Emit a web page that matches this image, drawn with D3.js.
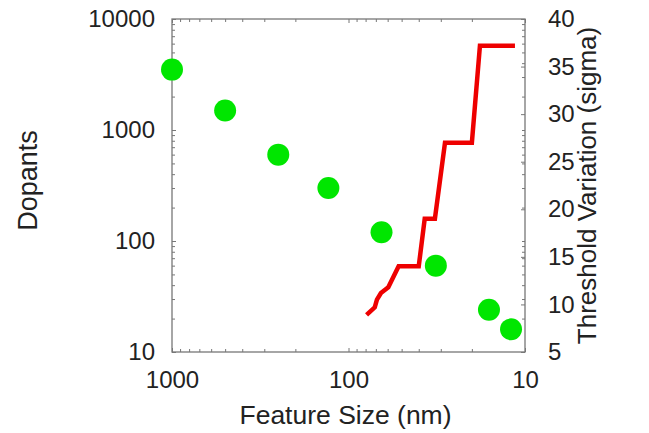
<!DOCTYPE html>
<html>
<head>
<meta charset="utf-8">
<script src="https://cdn.jsdelivr.net/npm/d3@7"></script>
<style>
  html, body { margin: 0; padding: 0; background: #fff; }
  #chart { width: 649px; height: 433px; }
  text { font-family: "Liberation Sans", Arial, sans-serif; fill: #222; }
</style>
</head>
<body>
<div id="chart"></div>
<script>
// dopant count per node
const featureSize = [1000, 500, 250, 130, 65, 32, 16, 12];
const dopants = [3500, 1500, 600, 300, 120, 60, 24, 16];

// threshold variation curve (stepped)
const vtSize = [79, 71, 69, 65.5, 59.5, 52, 40, 37, 32.4, 28.4, 20, 18, 11.4];
const vtSigma = [8.9, 9.7, 10.5, 11.2, 11.8, 14, 14, 19, 19, 27, 27, 37.2, 37.2];

const xTicks = [1000, 100, 10];
const yLeftTicks = [10, 100, 1000, 10000];
const yRightTicks = [5, 10, 15, 20, 25, 30, 35, 40];

const width = 649, height = 433;
const margin = {left: 172, right: 124, top: 19, bottom: 81};
const plotW = width - margin.left - margin.right;
const plotH = height - margin.top - margin.bottom;
const axisColor = '#777';

const svg = d3.select('#chart').append('svg')
  .attr('width', width)
  .attr('height', height);

const x = d3.scaleLog().domain([1000, 10]).range([margin.left, margin.left + plotW]);
const yL = d3.scaleLog().domain([10, 10000]).range([margin.top + plotH, margin.top]);
const yR = d3.scaleLinear().domain([5, 40]).range([margin.top + plotH, margin.top]);

// minor log ticks 2..9 of each decade
function minors(lo, hi) {
  let out = [];
  for (let d = lo; d < hi; d *= 10) {
    for (let k = 2; k <= 9; k++) out.push(d * k);
  }
  return out;
}
const xMinor = minors(10, 1000);
const yMinor = minors(10, 10000);

function styleAxis(g) {
  g.select('.domain').remove();
  g.selectAll('line').attr('stroke', axisColor).attr('stroke-width', 1);
  g.selectAll('text').attr('font-size', 24).attr('fill', '#222')
    .attr('font-family', '"Liberation Sans", Arial, sans-serif');
}

// frame
svg.append('rect')
  .attr('x', margin.left).attr('y', margin.top)
  .attr('width', plotW).attr('height', plotH)
  .attr('fill', 'none').attr('stroke', axisColor).attr('stroke-width', 1.3);

// bottom
svg.append('g').attr('transform', `translate(0,${margin.top + plotH})`)
  .call(d3.axisBottom(x).tickValues(xTicks).tickFormat(d3.format('d'))
    .tickSizeInner(-4).tickSizeOuter(0).tickPadding(19))
  .call(styleAxis);
svg.append('g').attr('transform', `translate(0,${margin.top + plotH})`)
  .call(d3.axisBottom(x).tickValues(xMinor).tickFormat('').tickSizeInner(-3).tickSizeOuter(0))
  .call(styleAxis);

// top (mirror)
svg.append('g').attr('transform', `translate(0,${margin.top})`)
  .call(d3.axisTop(x).tickValues(xTicks).tickFormat('').tickSizeInner(-4).tickSizeOuter(0))
  .call(styleAxis);
svg.append('g').attr('transform', `translate(0,${margin.top})`)
  .call(d3.axisTop(x).tickValues(xMinor).tickFormat('').tickSizeInner(-3).tickSizeOuter(0))
  .call(styleAxis);

// left
svg.append('g').attr('transform', `translate(${margin.left},0)`)
  .call(d3.axisLeft(yL).tickValues(yLeftTicks).tickFormat(d3.format('d'))
    .tickSizeInner(-4).tickSizeOuter(0).tickPadding(17))
  .call(styleAxis);
svg.append('g').attr('transform', `translate(${margin.left},0)`)
  .call(d3.axisLeft(yL).tickValues(yMinor).tickFormat('').tickSizeInner(-3).tickSizeOuter(0))
  .call(styleAxis);

// right: linear labels plus mirrored log minors
const rx = margin.left + plotW;
svg.append('g').attr('transform', `translate(${rx},0)`)
  .call(d3.axisRight(yR).tickValues(yRightTicks).tickFormat(d3.format('d'))
    .tickSizeInner(-4).tickSizeOuter(0).tickPadding(23))
  .call(styleAxis);
svg.append('g').attr('transform', `translate(${rx},0)`)
  .call(d3.axisRight(yL).tickValues(yMinor.concat(yLeftTicks)).tickFormat('')
    .tickSizeInner(-3).tickSizeOuter(0))
  .call(styleAxis);

// axis titles
svg.append('text')
  .text('Feature Size (nm)')
  .attr('x', margin.left + plotW / 2 - 3)
  .attr('y', 424)
  .attr('text-anchor', 'middle')
  .attr('font-size', 26.5);

svg.append('text')
  .text('Dopants')
  .attr('transform', `translate(37, ${margin.top + plotH / 2 - 5}) rotate(-90)`)
  .attr('text-anchor', 'middle')
  .attr('font-size', 27);

svg.append('text')
  .text('Threshold Variation (sigma)')
  .attr('transform', `translate(596, ${margin.top + plotH / 2}) rotate(-90)`)
  .attr('text-anchor', 'middle')
  .attr('font-size', 26);

// red threshold line
const vt = vtSize.map((s, i) => ({size: s, sigma: vtSigma[i]}));
svg.append('path')
  .datum(vt)
  .attr('fill', 'none')
  .attr('stroke', '#ee0000')
  .attr('stroke-width', 4.5)
  .attr('stroke-linejoin', 'miter')
  .attr('d', d3.line().x(d => x(d.size)).y(d => yR(d.sigma)));

// green dopant dots
const dots = featureSize.map((s, i) => ({size: s, n: dopants[i]}));
svg.append('g').selectAll('circle')
  .data(dots)
  .enter().append('circle')
  .attr('cx', d => x(d.size))
  .attr('cy', d => yL(d.n))
  .attr('r', 11)
  .attr('fill', '#00e600');
</script>
</body>
</html>
